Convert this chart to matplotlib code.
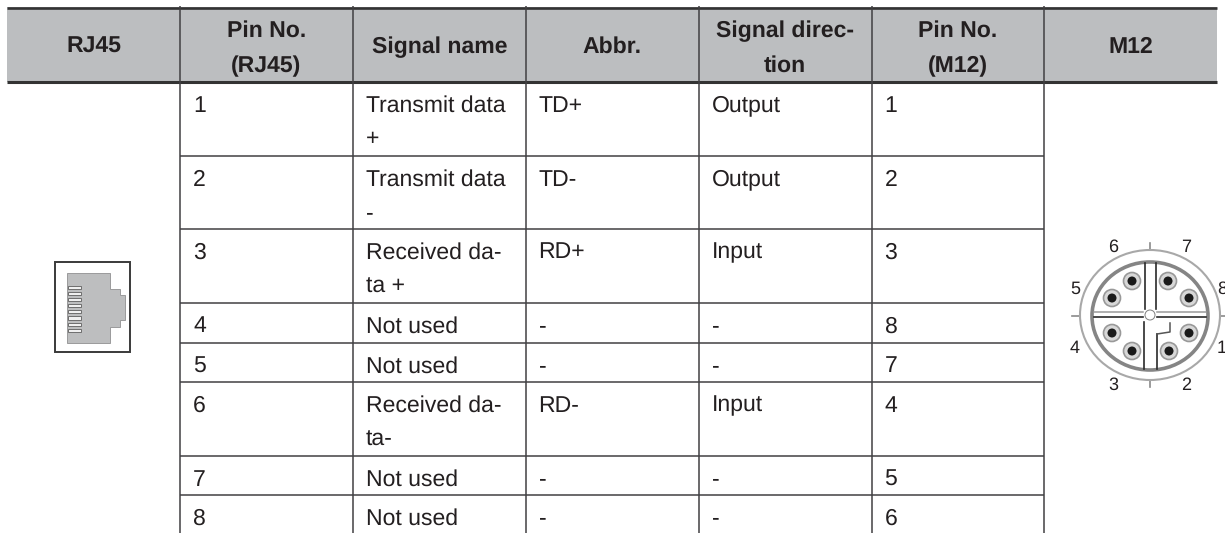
import numpy as np
import matplotlib
matplotlib.use('Agg')
import matplotlib.pyplot as plt
from matplotlib.patches import Rectangle, Ellipse, Polygon

plt.rcParams['font.family'] = ['Liberation Sans', 'DejaVu Sans']
plt.rcParams['text.hinting'] = 'no_hinting'
plt.rcParams['text.hinting_factor'] = 1

# table contents
headers = [['RJ45'], ['Pin No.', '(RJ45)'], ['Signal name'], ['Abbr.'],
           ['Signal direc-', 'tion'], ['Pin No.', '(M12)'], ['M12']]
pins_rj45 = ['1', '2', '3', '4', '5', '6', '7', '8']
signal_names = [['Transmit data', '+'], ['Transmit data', '-'], ['Received da-', 'ta +'],
                ['Not used'], ['Not used'], ['Received da-', 'ta-'], ['Not used'], ['Not used']]
abbrs = ['TD+', 'TD-', 'RD+', '-', '-', 'RD-', '-', '-']
directions = ['Output', 'Output', 'Input', '-', '-', 'Input', '-', '-']
pins_m12 = ['1', '2', '3', '8', '7', '4', '5', '6']
m12_labels = ['6', '7', '5', '8', '4', '1', '3', '2']

# layout, in pixels of the picture
W, H = 1225, 533
col_x = [7, 180, 353, 525.5, 698.5, 871.5, 1044, 1217]
row_y = [82, 156, 229, 303, 343, 382, 456, 495, 533]
TEXT = '#231f20'
LINE = '#414042'
FS = 16.7

fig = plt.figure(figsize=(W / 100, H / 100), dpi=100)
ax = fig.add_axes([0, 0, 1, 1])
ax.set_xlim(0, W)
ax.set_ylim(H, 0)
ax.axis('off')

# header
ax.add_patch(Rectangle((col_x[0], 7), col_x[-1] - col_x[0], 75, fc='#bcbec0', ec='none', zorder=1))
for i, lines in enumerate(headers):
    xc = (col_x[i] + col_x[i + 1]) / 2
    ys = [53] if len(lines) == 1 else [37, 72]
    for s, y in zip(lines, ys):
        ax.text(xc, y, s, ha='center', va='baseline', fontsize=FS, fontweight='bold', color=TEXT)

# grid
ax.plot([col_x[0], col_x[-1]], [7.5, 7.5], color='#333333', lw=1.9, zorder=3, solid_capstyle='butt')
ax.plot([col_x[0], col_x[-1]], [82, 82], color='#333333', lw=2.2, zorder=3, solid_capstyle='butt')
for x in col_x[1:-1]:
    ax.plot([x, x], [6, H], color=LINE, lw=1.1, zorder=3, solid_capstyle='butt')
for y in row_y[1:-1]:
    ax.plot([col_x[1], col_x[6]], [y, y], color=LINE, lw=1.1, zorder=3, solid_capstyle='butt')

# body
columns = [pins_rj45, signal_names, abbrs, directions, pins_m12]
for c, col in enumerate(columns):
    for r, val in enumerate(col):
        lines = val if isinstance(val, list) else [val]
        for k, s in enumerate(lines):
            ax.text(col_x[c + 1] + 13, row_y[r] + 29.5 + 34 * k, s, ha='left', va='baseline',
                    fontsize=FS, color=TEXT)

# RJ45 socket icon
ax.add_patch(Rectangle((55, 262), 75, 90, fc='white', ec='#3a3a3a', lw=1.4, zorder=2))
jack = [(67, 273), (110, 273), (110, 289), (120, 289), (120, 295), (125, 295), (125, 320),
        (120, 320), (120, 327), (110, 327), (110, 343), (67, 343)]
ax.add_patch(Polygon(jack, closed=True, fc='#bdbebf', ec='#9a9a9b', lw=0.7, zorder=3))
for y in np.arange(285.5, 330, 6.2):
    ax.add_patch(Rectangle((67.5, y), 13, 3.2, fc='#f0f0f0', ec='#6e6e6e', lw=0.7, zorder=4))

# M12 connector
cx, cy = 1150, 316
ax.plot([1072, W], [cy, cy], color='#8a8a8a', lw=1.2, zorder=2)
ax.plot([cx, cx], [243, 387], color='#8a8a8a', lw=1.2, zorder=2)
ax.add_patch(Ellipse((cx, cy - 1), 140, 130, fc='white', ec='#a8a8a8', lw=1.5, zorder=2.5))
ax.add_patch(Ellipse((cx, cy), 116, 108, fc='white', ec='#858585', lw=2.6, zorder=3))
# cross dividing the insert: double dark lines with a pale gap
for x0, x1 in [(1094, 1143), (1157, 1206)]:
    ax.plot([x0, x1], [311.5, 311.5], color='#9a9a9a', lw=1.1, zorder=3.2)
    ax.plot([x0, x1], [317, 317], color='#2a2a2a', lw=1.2, zorder=3.2)
ax.plot([1145, 1145], [263, 309], color='#2a2a2a', lw=1.2, zorder=3.2)
ax.plot([1156, 1156], [263, 309], color='#2a2a2a', lw=1.2, zorder=3.2)
ax.plot([1144, 1144], [322, 369], color='#2a2a2a', lw=1.2, zorder=3.2)
ax.plot([1157, 1157], [334, 369], color='#2a2a2a', lw=1.2, zorder=3.2)
# key notch in the lower right quadrant
ax.plot([1157, 1170, 1170], [334, 332, 323], color='#555555', lw=1.1, zorder=3.3)
ax.add_patch(Ellipse((cx, cy - 1), 10, 10, fc='white', ec='#808080', lw=0.7, zorder=3.4))

pin_x = [1132, 1168, 1112, 1189, 1112, 1189, 1132, 1169]
pin_y = [281, 281, 298, 298, 333, 333, 351, 351]
for x, y in zip(pin_x, pin_y):
    ax.add_patch(Ellipse((x, y), 17, 17, fc='#d8d8d8', ec='#999999', lw=1.2, zorder=4))
    ax.add_patch(Ellipse((x, y), 9, 9, fc='#1a1a1a', ec='none', zorder=4.1))

lab_x = [1113, 1186, 1075, 1222, 1075, 1222, 1113, 1186]
lab_y = [252, 252, 294, 294, 353, 353, 390, 390]
for s, x, y in zip(m12_labels, lab_x, lab_y):
    ax.text(x, y, s, ha='center', va='baseline', fontsize=13, color=TEXT, clip_on=True, zorder=5)

fig.savefig('out.png', dpi=100, facecolor='white')
